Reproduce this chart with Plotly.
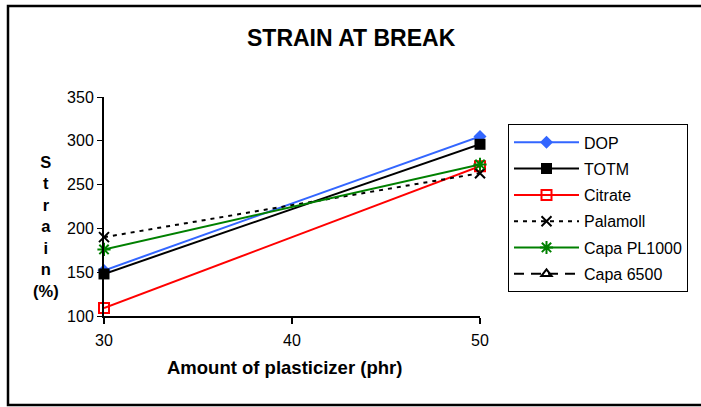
import plotly.graph_objects as go

x_phr = [30, 50]
dop = [152, 305]
totm = [148, 296]
citrate = [109, 271]
palamoll = [190, 263]
capa_pl1000 = [176, 273]
capa_6500 = [None, None]

series = [
    ("DOP", dop, dict(color="#3366FF", width=2, dash="solid"), dict(symbol="diamond", size=10, color="#3366FF")),
    ("TOTM", totm, dict(color="black", width=2, dash="solid"), dict(symbol="square", size=11, color="black")),
    ("Citrate", citrate, dict(color="#FF0000", width=2, dash="solid"), dict(symbol="square-open", size=10, color="#FF0000", line=dict(width=2))),
    ("Palamoll", palamoll, dict(color="black", width=2, dash="4px,5px"), dict(symbol="x-thin-open", size=10, color="black", line=dict(width=2))),
    ("Capa PL1000", capa_pl1000, dict(color="#008000", width=2, dash="solid"), dict(symbol="asterisk-open", size=11, color="#008000", line=dict(width=2))),
    ("Capa 6500", capa_6500, dict(color="black", width=2, dash="10px,7px"), dict(symbol="triangle-up-open", size=9, color="black", line=dict(width=2))),
]

fig = go.Figure()
for i, (name, ys, ln, mk) in enumerate(series):
    fig.add_trace(go.Scatter(x=x_phr, y=ys, name=name, mode="lines+markers",
                             line=ln, marker=mk, legendgroup=f"g{i}", cliponaxis=False))

FONT = "Liberation Sans, Arial, sans-serif"
L, R, T, B = 104, 480, 96.5, 316.5
W, H = 701, 407
pw, ph = R - L, B - T

def px(xp):
    return (xp - L) / pw

def py(yp):
    return (B - yp) / ph

fig.update_layout(
    width=W, height=H,
    margin=dict(l=L, r=W - R, t=T, b=H - B, pad=0),
    paper_bgcolor="white", plot_bgcolor="white",
    font=dict(family=FONT, color="black", size=16),
    showlegend=True,
    legend=dict(x=px(508), y=py(124), xanchor="left", yanchor="top",
                bordercolor="black", borderwidth=1, bgcolor="white",
                font=dict(family=FONT, size=16, color="black"),
                tracegroupgap=2.5, itemwidth=65),
    xaxis=dict(range=[30, 50], tickvals=[30, 40, 50], showgrid=False, zeroline=False,
               showline=True, linecolor="black", linewidth=2,
               ticks="outside", ticklen=6, tickwidth=2, tickcolor="black",
               ticklabelstandoff=3,
               tickfont=dict(family=FONT, size=16, color="black")),
    yaxis=dict(range=[100, 350], tickvals=[100, 150, 200, 250, 300, 350], showgrid=False, zeroline=False,
               showline=True, linecolor="black", linewidth=2,
               ticks="outside", ticklen=5, tickwidth=1, tickcolor="black",
               tickfont=dict(family=FONT, size=16, color="black")),
    annotations=[
        dict(text="<b>STRAIN AT BREAK</b>", xref="paper", yref="paper", x=px(351), y=py(37),
             showarrow=False, font=dict(family=FONT, size=23, color="black"), xanchor="center", yanchor="middle"),
        dict(text="<b>Amount of plasticizer (phr)</b>", xref="paper", yref="paper", x=px(284), y=py(368),
             showarrow=False, font=dict(family=FONT, size=18.5, color="black"), xanchor="center", yanchor="middle"),
        dict(text="<b>S<br>t<br>r<br>a<br>i<br>n<br>(%)</b>", xref="paper", yref="paper", x=px(46), y=py(227),
             showarrow=False, font=dict(family=FONT, size=16.5, color="black"), xanchor="center", yanchor="middle",
             align="center"),
    ],
    shapes=[
        dict(type="rect", xref="paper", yref="paper", x0=px(8), x1=px(720), y0=py(406), y1=py(5),
             line=dict(color="black", width=2.5), fillcolor="rgba(0,0,0,0)", layer="below"),
    ],
)

fig.write_html("out.html")
